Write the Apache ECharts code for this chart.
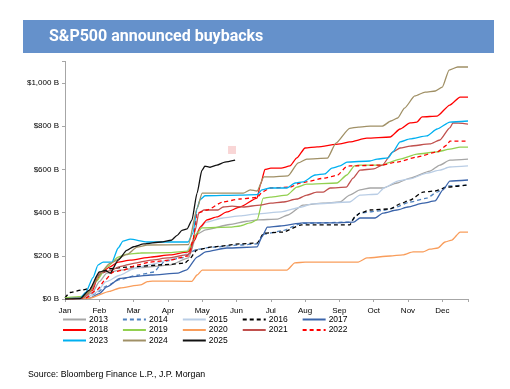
<!DOCTYPE html>
<html><head><meta charset="utf-8">
<script src="https://cdn.jsdelivr.net/npm/echarts@6/dist/echarts.min.js"></script>
<style>html,body{margin:0;padding:0;background:#fff}#c{width:510px;height:389px}</style>
</head><body><div id="c"></div>
<script>
const months = ['Jan','Feb','Mar','Apr','May','Jun','Jul','Aug','Sep','Oct','Nov','Dec'];
const yTickValues = [0,200,400,600,800,1000];
// x = months elapsed since Jan 1, y = cumulative announced buybacks ($B)
const s2013 = [[0,0],[0.5,3],[0.8,30],[1.0,80],[1.22,120],[1.6,134],[2.2,145],[3.06,157],[3.6,190],[3.85,300],[4.1,320],[4.8,345],[5.3,360],[5.6,366],[6.2,370],[6.5,389],[6.94,435],[7.52,444],[8.02,449],[8.3,481],[8.6,505],[8.9,514],[9.27,514],[9.68,537],[10.06,560],[10.64,592],[10.93,620],[11.22,643],[11.75,648]];
const s2014 = [[0,0],[0.6,3],[0.9,25],[1.2,60],[1.6,90],[2.1,110],[2.6,125],[2.75,150],[2.9,175],[3.4,190],[3.85,230],[4.3,240],[5.1,250],[5.6,255],[5.8,300],[6.3,315],[6.9,350],[8.3,356],[8.6,398],[9.27,410],[9.56,421],[10.06,449],[10.55,467],[10.85,495],[11.14,523],[11.75,528]];
const s2015 = [[0,0],[0.6,3],[0.9,30],[1.2,80],[1.6,110],[2.0,140],[2.5,160],[3.0,180],[3.5,205],[3.7,260],[3.9,320],[4.1,355],[4.6,375],[5.1,385],[5.6,394],[6.3,403],[6.9,426],[7.2,440],[8.3,449],[8.6,481],[9.1,485],[9.3,514],[9.7,546],[10.06,556],[10.55,583],[10.93,597],[11.22,611],[11.75,616]];
const s2016 = [[0,5],[0.15,30],[0.5,42],[0.75,50],[1.0,110],[1.3,140],[1.8,148],[3.06,160],[3.5,167],[3.6,180],[3.85,227],[4.3,241],[5.1,255],[5.6,259],[5.8,305],[6.35,310],[6.9,343],[8.3,343],[8.45,380],[8.6,398],[8.89,412],[9.48,417],[9.77,440],[10.06,458],[10.44,495],[10.79,500],[11.14,518],[11.75,528]];
const s2017 = [[0,0],[0.7,3],[1.0,25],[1.22,56],[1.6,95],[2.1,105],[2.5,111],[3.3,120],[3.55,135],[3.85,194],[4.1,218],[4.72,236],[5.6,241],[5.74,287],[5.9,333],[6.27,338],[6.94,352],[7.73,352],[8.42,356],[8.6,375],[9.04,375],[9.27,398],[9.68,412],[10.0,426],[10.44,444],[10.79,454],[11.02,505],[11.22,546],[11.75,551]];
const s2018 = [[0,0],[0.5,5],[0.8,40],[0.93,88],[1.08,125],[1.3,148],[1.55,171],[1.9,180],[2.5,194],[3.06,204],[3.59,218],[3.78,273],[3.94,333],[4.14,366],[4.43,380],[4.72,403],[5.1,426],[5.6,467],[5.7,530],[5.83,600],[6.0,606],[6.3,606],[6.56,616],[6.76,653],[7.0,699],[7.35,704],[8.02,718],[8.3,727],[8.8,745],[9.48,750],[9.77,787],[10.06,815],[10.26,819],[10.41,843],[10.85,847],[11.22,898],[11.52,935],[11.75,935]];
const s2019 = [[0,5],[0.5,12],[0.7,30],[0.9,80],[1.22,148],[1.55,194],[1.8,208],[2.2,213],[3.06,215],[3.58,222],[3.85,305],[3.99,329],[4.8,333],[5.1,338],[5.4,352],[5.6,366],[5.78,467],[5.98,472],[6.47,481],[6.76,518],[7.05,532],[7.93,537],[8.22,574],[8.44,616],[8.55,620],[9.27,620],[9.42,630],[9.77,648],[10.26,671],[10.85,681],[11.22,694],[11.52,703],[11.75,703]];
const s2020 = [[0,0],[0.7,3],[1.3,35],[1.6,51],[2.2,65],[2.4,80],[2.55,83],[3.7,82],[3.85,111],[4.0,134],[6.47,134],[6.7,167],[7.0,171],[8.55,171],[8.8,190],[9.48,199],[9.85,204],[10.15,218],[10.44,218],[10.64,231],[10.87,236],[11.08,264],[11.28,273],[11.52,310],[11.75,310]];
const s2021 = [[0,0],[0.5,3],[0.8,50],[1.0,120],[1.3,130],[1.6,150],[2.0,165],[2.5,180],[3.0,190],[3.55,204],[3.66,213],[3.8,320],[3.9,398],[4.05,412],[4.46,412],[4.61,426],[4.87,430],[5.2,426],[5.69,435],[6.0,444],[6.35,449],[6.76,463],[7.05,481],[7.34,495],[7.53,495],[7.73,514],[8.2,518],[8.4,560],[8.6,597],[9.0,602],[9.25,620],[9.56,681],[9.77,699],[10.06,708],[10.64,718],[10.93,736],[11.22,792],[11.31,815],[11.75,810]];
const s2022 = [[0,0],[0.6,5],[0.93,42],[1.17,88],[1.4,125],[1.7,134],[2.1,157],[2.48,171],[3.06,180],[3.6,200],[3.73,270],[3.85,398],[4.14,412],[4.6,449],[5.1,463],[5.6,470],[5.75,495],[5.98,514],[6.56,518],[6.85,537],[7.58,560],[7.95,574],[8.2,611],[8.3,616],[9.25,620],[9.68,634],[10.26,657],[10.85,681],[11.14,713],[11.22,731],[11.75,731]];
const s2023 = [[0,0],[0.45,5],[0.6,30],[0.82,100],[0.96,157],[1.11,171],[1.37,171],[1.55,236],[1.69,268],[1.9,277],[2.39,264],[3.59,264],[3.73,305],[3.85,420],[3.94,460],[4.08,478],[5.1,481],[5.6,483],[5.74,505],[5.98,514],[6.47,514],[6.71,537],[6.94,542],[7.29,574],[7.58,579],[7.78,606],[8.02,616],[8.22,634],[8.89,639],[9.1,648],[9.42,653],[9.56,681],[9.77,727],[10.06,741],[10.55,755],[10.85,787],[11.22,819],[11.75,824]];
const s2024 = [[0,0],[0.5,5],[0.75,40],[0.93,100],[1.31,165],[1.8,205],[2.1,240],[2.4,250],[3.6,252],[3.85,420],[4.0,490],[4.2,490],[5.2,490],[5.4,505],[5.6,500],[5.8,565],[6.0,565],[6.5,570],[6.8,630],[7.05,648],[7.65,652],[7.9,722],[8.3,790],[8.55,796],[8.9,800],[9.25,800],[9.5,824],[9.7,838],[9.9,884],[10.2,940],[10.5,958],[10.8,963],[11.0,981],[11.2,1060],[11.45,1074],[11.75,1074]];
const s2025 = [[0,0],[0.44,2],[0.7,40],[1.0,125],[1.17,132],[1.32,120],[1.55,180],[1.8,225],[2.0,242],[2.3,255],[2.8,264],[3.1,272],[3.27,295],[3.41,318],[3.56,325],[3.7,365],[3.85,490],[3.99,595],[4.08,615],[4.23,610],[4.43,620],[4.66,634],[4.96,643]];
const marker = [[4.87,690]];

const seriesDefs = [
  ['2013', s2013, '#a6a6a6', 'solid'],
  ['2014', s2014, '#4f81bd', 'dashed'],
  ['2015', s2015, '#b9cde5', 'solid'],
  ['2016', s2016, '#000000', 'dashed'],
  ['2017', s2017, '#3b64aa', 'solid'],
  ['2018', s2018, '#ff0000', 'solid'],
  ['2019', s2019, '#92d050', 'solid'],
  ['2020', s2020, '#f99d5b', 'solid'],
  ['2021', s2021, '#c0504d', 'solid'],
  ['2022', s2022, '#ff0000', 'dashed'],
  ['2023', s2023, '#00b0f0', 'solid'],
  ['2024', s2024, '#a09066', 'solid'],
  ['2025', s2025, '#111111', 'solid']
];
const legendRows = [['2013','2014','2015','2016','2017'],['2018','2019','2020','2021','2022'],['2023','2024','2025']];

const sans = '"Liberation Sans", Arial, sans-serif';
const chart = echarts.init(document.getElementById('c'), null, {renderer:'canvas'});
const series = seriesDefs.map(([name, data, color, type]) => ({
  name, type:'line', data, symbol:'none', smooth:0.2, smoothMonotone:'x',
  lineStyle:{color, width:1.3, type: type==='dashed' ? [4,3] : 'solid'},
  itemStyle:{color}, emphasis:{disabled:true}, animation:false
}));
series.push({type:'scatter', data:marker, symbol:'rect', symbolSize:8, itemStyle:{color:'#f8cccc'}, silent:true, animation:false});

chart.setOption({
  backgroundColor:'#fff',
  animation:false,
  title:{text:'S&P500 announced buybacks', left:49, top:28, padding:0,
    textStyle:{color:'#fff', fontSize:16, lineHeight:17, fontWeight:'bold', fontFamily:'Roboto, "Open Sans", sans-serif'}},
  grid:{left:65, right:42, top:61.4, bottom:90},
  xAxis:{type:'value', min:0, max:11.75, interval:1,
    axisLine:{lineStyle:{color:'#a6a6a6', width:1}},
    axisTick:{show:true, length:3, lineStyle:{color:'#a6a6a6'}},
    splitLine:{show:false},
    axisLabel:{color:'#000', fontSize:8, fontFamily:sans, margin:8,
      formatter:v => Number.isInteger(v) && months[v] ? months[v] : ''}},
  yAxis:{type:'value', min:0, max:1100, interval:200,
    axisLine:{show:true, lineStyle:{color:'#a6a6a6'}},
    axisTick:{show:true, length:3, lineStyle:{color:'#a6a6a6'}},
    splitLine:{show:false},
    axisLabel:{color:'#000', fontSize:8, fontFamily:sans, margin:6,
      formatter:v => yTickValues.includes(v) ? '$' + v.toLocaleString('en-US') + ' B' : ''}},
  legend: legendRows.map((row, i) => ({
    data: row, left:62, top:315 + i*10.5, padding:0, orient:'horizontal', itemWidth:23, itemHeight:10, itemGap:14,
    itemStyle:{opacity:0}, lineStyle:{width:2},
    textStyle:{color:'#000', fontSize:8.5, fontFamily:sans, padding:[0,0,0,-2]}, selectedMode:false
  })),
  graphic:[{type:'rect', z:-1, shape:{x:23, y:20, width:471, height:33}, style:{fill:'#6591cb'}},
    {type:'text', left:28, top:370, style:{text:'Source: Bloomberg Finance L.P., J.P. Morgan', fill:'#000', font:'8.8px "Liberation Sans", Arial, sans-serif'}}],
  series
});
</script></body></html>
